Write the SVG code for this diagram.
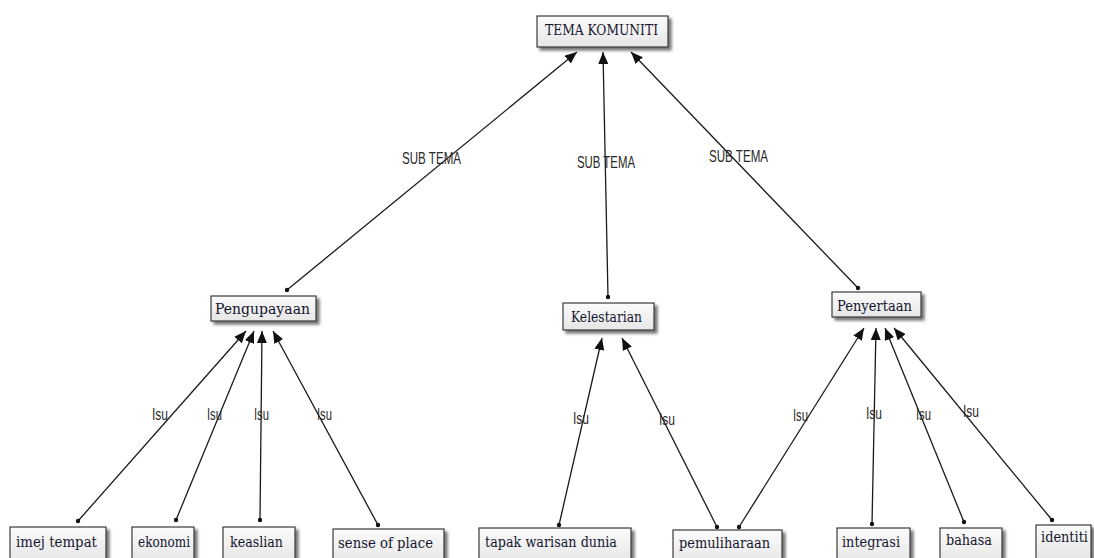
<svg xmlns="http://www.w3.org/2000/svg" width="1094" height="558" viewBox="0 0 1094 558">
<defs>
<linearGradient id="g" x1="0" y1="0" x2="0" y2="1">
<stop offset="0" stop-color="#fbfbfb"/>
<stop offset="1" stop-color="#e6e6e6"/>
</linearGradient>
<filter id="sh" x="-20%" y="-30%" width="150%" height="180%">
<feDropShadow dx="3" dy="3" stdDeviation="1.6" flood-color="#000" flood-opacity="0.55"/>
</filter>
<marker id="ah" markerUnits="userSpaceOnUse" markerWidth="14" markerHeight="10" refX="12" refY="5" orient="auto">
<path d="M0,0 L12,5 L0,10 Z" fill="#111"/>
</marker>
<marker id="dot" markerUnits="userSpaceOnUse" markerWidth="6" markerHeight="6" refX="3" refY="3">
<circle cx="3" cy="3" r="2.2" fill="#111"/>
</marker>
<style>
.box{fill:url(#g);stroke:#3a3a3a;stroke-width:1.2;filter:url(#sh)}
.t{font-family:"DejaVu Serif","Liberation Serif",serif;font-size:15px;fill:#15152e}
.c line{stroke:#1a1a1a;stroke-width:1.3;marker-start:url(#dot);marker-end:url(#ah)}
.l{font-family:"Liberation Sans",Arial,sans-serif;font-size:16px;fill:#2a2a2a}
</style>
</defs>
<rect width="1094" height="558" fill="#fff"/>
<g class="c" id="connectors">
<line x1="287" y1="290" x2="577" y2="52"/>
<line x1="608" y1="297" x2="603" y2="52"/>
<line x1="858" y1="288" x2="631" y2="52"/>
<line x1="78" y1="521" x2="246" y2="331"/>
<line x1="176" y1="520" x2="254" y2="331"/>
<line x1="260" y1="520" x2="262" y2="331"/>
<line x1="378" y1="525" x2="273" y2="331"/>
<line x1="559" y1="525" x2="602" y2="338"/>
<line x1="717" y1="527" x2="622" y2="338"/>
<line x1="739" y1="527" x2="864" y2="328"/>
<line x1="872" y1="524" x2="876" y2="328"/>
<line x1="964" y1="522" x2="885" y2="328"/>
<line x1="1052" y1="520" x2="894" y2="328"/>
</g>
<g id="labels">
<text class="l" x="402" y="164" textLength="59" lengthAdjust="spacingAndGlyphs">SUB TEMA</text>
<text class="l" x="577" y="168" textLength="58" lengthAdjust="spacingAndGlyphs">SUB TEMA</text>
<text class="l" x="709" y="162" textLength="59" lengthAdjust="spacingAndGlyphs">SUB TEMA</text>
<text class="l" x="152" y="420" textLength="16" lengthAdjust="spacingAndGlyphs">Isu</text>
<text class="l" x="207" y="420" textLength="15" lengthAdjust="spacingAndGlyphs">Isu</text>
<text class="l" x="254" y="420" textLength="15" lengthAdjust="spacingAndGlyphs">Isu</text>
<text class="l" x="317" y="420" textLength="15" lengthAdjust="spacingAndGlyphs">Isu</text>
<text class="l" x="573" y="424" textLength="16" lengthAdjust="spacingAndGlyphs">Isu</text>
<text class="l" x="659" y="425" textLength="16" lengthAdjust="spacingAndGlyphs">Isu</text>
<text class="l" x="793" y="421" textLength="15" lengthAdjust="spacingAndGlyphs">Isu</text>
<text class="l" x="866" y="419" textLength="16" lengthAdjust="spacingAndGlyphs">Isu</text>
<text class="l" x="916" y="420" textLength="15" lengthAdjust="spacingAndGlyphs">Isu</text>
<text class="l" x="963" y="417" textLength="16" lengthAdjust="spacingAndGlyphs">Isu</text>
</g>
<g id="n-tema"><rect class="box" x="537" y="16" width="131" height="31"/><text class="t" x="545" y="35" textLength="113" lengthAdjust="spacingAndGlyphs">TEMA KOMUNITI</text></g>
<g id="n-pengupayaan"><rect class="box" x="211" y="296" width="105" height="25"/><text class="t" x="215" y="314" textLength="95" lengthAdjust="spacingAndGlyphs">Pengupayaan</text></g>
<g id="n-kelestarian"><rect class="box" x="563" y="303" width="91" height="27"/><text class="t" x="571" y="322" textLength="71" lengthAdjust="spacingAndGlyphs">Kelestarian</text></g>
<g id="n-penyertaan"><rect class="box" x="832" y="292" width="89" height="25"/><text class="t" x="837" y="311" textLength="75" lengthAdjust="spacingAndGlyphs">Penyertaan</text></g>
<g id="n-imej"><rect class="box" x="10" y="527" width="96" height="34"/><text class="t" x="16" y="547" textLength="81" lengthAdjust="spacingAndGlyphs">imej tempat</text></g>
<g id="n-ekonomi"><rect class="box" x="132" y="527" width="62" height="34"/><text class="t" x="138" y="547" textLength="52" lengthAdjust="spacingAndGlyphs">ekonomi</text></g>
<g id="n-keaslian"><rect class="box" x="223" y="527" width="72" height="34"/><text class="t" x="230" y="547" textLength="53" lengthAdjust="spacingAndGlyphs">keaslian</text></g>
<g id="n-sense"><rect class="box" x="333" y="529" width="111" height="34"/><text class="t" x="338" y="548" textLength="95" lengthAdjust="spacingAndGlyphs">sense of place</text></g>
<g id="n-tapak"><rect class="box" x="479" y="528" width="152" height="34"/><text class="t" x="485" y="547" textLength="132" lengthAdjust="spacingAndGlyphs">tapak warisan dunia</text></g>
<g id="n-pemuliharaan"><rect class="box" x="673" y="530" width="109" height="34"/><text class="t" x="679" y="548" textLength="91" lengthAdjust="spacingAndGlyphs">pemuliharaan</text></g>
<g id="n-integrasi"><rect class="box" x="837" y="528" width="73" height="34"/><text class="t" x="842" y="547" textLength="58" lengthAdjust="spacingAndGlyphs">integrasi</text></g>
<g id="n-bahasa"><rect class="box" x="940" y="528" width="62" height="34"/><text class="t" x="946" y="545" textLength="46" lengthAdjust="spacingAndGlyphs">bahasa</text></g>
<g id="n-identiti"><rect class="box" x="1036" y="525" width="55" height="34"/><text class="t" x="1041" y="542" textLength="47" lengthAdjust="spacingAndGlyphs">identiti</text></g>
</svg>
